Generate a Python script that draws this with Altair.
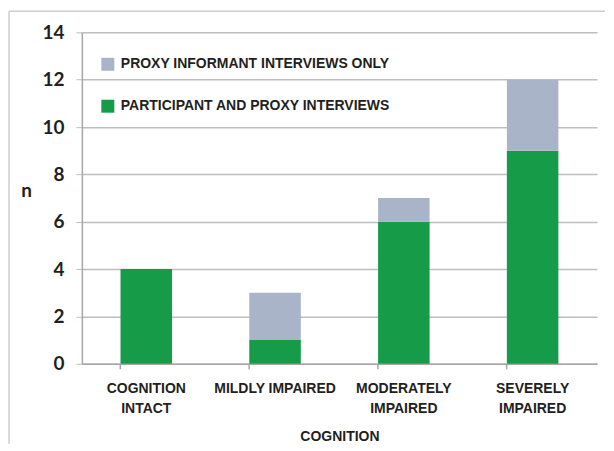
import altair as alt
import pandas as pd

categories = ["Cognition intact", "Mildly impaired", "Moderately impaired", "Severely impaired"]
participant = [4, 1, 6, 9]
proxy_only = [0, 2, 1, 3]
series = ["Proxy informant interviews only", "Participant and proxy interviews"]
colors = ["#A9B4C8", "#169B48"]
y_ticks = [0, 2, 4, 6, 8, 10, 12, 14]

rows = []
for c, p, q in zip(categories, participant, proxy_only):
    rows.append({"cat": c, "series": series[1], "n": p, "ord": 0})
    rows.append({"cat": c, "series": series[0], "n": q, "ord": 1})
df = pd.DataFrame(rows)

W, H = 516, 332
LBL = "Liberation Sans"

bars = alt.Chart(df).mark_bar().encode(
    x=alt.X("cat:N", sort=categories,
            scale=alt.Scale(paddingInner=0.6, paddingOuter=0.3),
            axis=alt.Axis(
                title="COGNITION", titleFont=LBL, titleFontSize=14, titleFontWeight="bold",
                titleColor="#231F20", titlePadding=14,
                labelExpr="datum.value == 'Mildly impaired' ? 'MILDLY IMPAIRED' : split(upper(datum.value), ' ')",
                labelFont=LBL, labelFontSize=14, labelFontWeight="bold", labelColor="#231F20",
                labelAngle=0, labelPadding=13, labelLineHeight=20, labelBaseline="top",
                labelLimit=0,
                bandPosition=0, tickSize=5, tickColor="#A6A6A6", domainColor="#A6A6A6",
                domainWidth=1.5, tickWidth=1.5, grid=False)),
    y=alt.Y("sum(n):Q", stack="zero",
            scale=alt.Scale(domain=[0, 14], nice=False),
            axis=alt.Axis(
                values=y_ticks, title="n", titleAngle=0, titleFont="Lato", titleFontSize=19,
                titleFontWeight="bold", titleColor="#231F20", titleX=-56, titleY=158,
                titleAlign="center", titleBaseline="middle",
                labelFont="Lato", labelFontSize=19, labelFontWeight="bold", labelColor="#231F20",
                labelPadding=12, tickSize=6, tickColor="#BEBEBE", domainColor="#A6A6A6",
                domainWidth=1.5, gridColor="#BEBEBE", gridWidth=1.5)),
    color=alt.Color("series:N", scale=alt.Scale(domain=series, range=colors),
                    legend=alt.Legend(
                        title=None, orient="none", legendX=19, legendY=25,
                        symbolType="square", symbolSize=169, symbolStrokeWidth=0,
                        symbolOpacity=1, labelFont=LBL, labelFontSize=14,
                        labelFontWeight="bold", labelColor="#231F20", labelLimit=0,
                        labelExpr="upper(datum.label)", rowPadding=28, labelOffset=6)),
    order=alt.Order("ord:Q"),
)

frame_df = pd.DataFrame({"a": [0]})
left_edge = alt.Chart(frame_df).mark_rule(color="#CDCDCD", strokeWidth=1.5).encode(
    x=alt.value(-73), y=alt.value(-21), y2=alt.value(412))
top_edge = alt.Chart(frame_df).mark_rule(color="#CDCDCD", strokeWidth=1.5).encode(
    x=alt.value(-73), x2=alt.value(524), y=alt.value(-21))

chart = alt.layer(left_edge, top_edge, bars).properties(
    width=W, height=H, padding={"left": 0, "top": 2, "right": 0, "bottom": 0},
    background="white",
).configure_view(stroke=None)

chart.save("out.html", embed_options={"renderer": "svg", "actions": False})
